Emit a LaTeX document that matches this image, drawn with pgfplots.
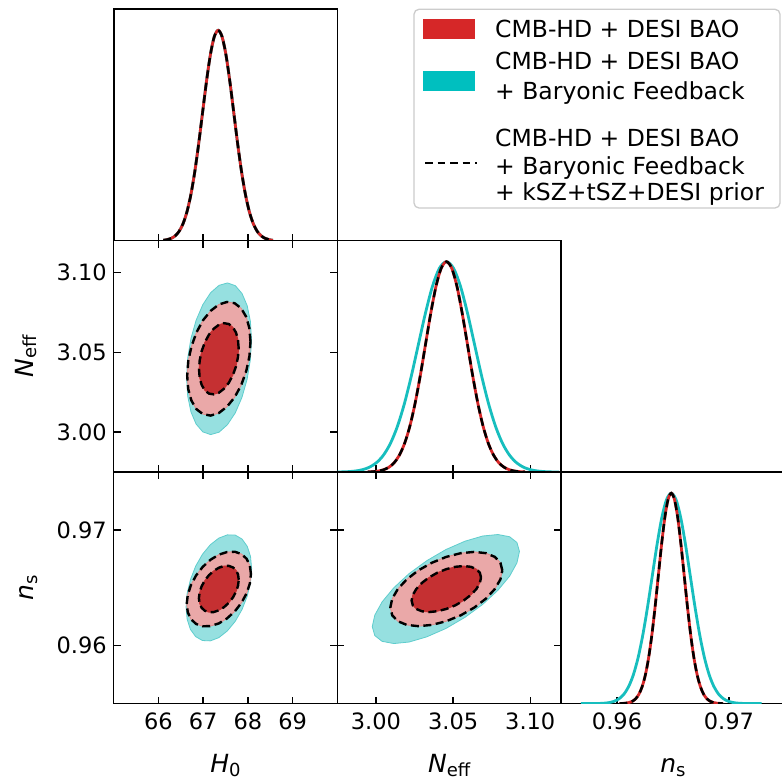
\documentclass[border=0pt]{standalone}
\usepackage{fontspec}
\setmainfont{DejaVu Sans}
\usepackage{pgfplots}
\pgfplotsset{compat=1.18}
\usepackage{pgfplotstable}

\definecolor{redline}{RGB}{214,39,40}
\definecolor{redin}{RGB}{197,48,50}
\definecolor{redout}{RGB}{234,168,168}
\definecolor{redoutedge}{RGB}{224,140,140}
\definecolor{cyanline}{RGB}{23,190,190}
\definecolor{cyanout}{RGB}{150,224,224}
\definecolor{cyanoutedge}{RGB}{95,205,205}
\definecolor{cyanpatch}{RGB}{0,191,191}

% ---------- 1D marginals ----------
\pgfplotstableread[row sep=\\]{
x y\\
66.11 0.0022\\ 66.1975 0.0051\\ 66.285 0.0111\\ 66.3725 0.0228\\ 66.46 0.0439\\ 66.5475 0.0796\\
66.635 0.1353\\ 66.7225 0.2163\\ 66.81 0.3247\\ 66.8975 0.4578\\ 66.985 0.6065\\ 67.0725 0.7548\\
67.16 0.8825\\ 67.2475 0.9692\\ 67.335 1\\ 67.4225 0.9692\\ 67.51 0.8825\\ 67.5975 0.7548\\
67.685 0.6065\\ 67.7725 0.4578\\ 67.86 0.3247\\ 67.9475 0.2163\\ 68.035 0.1353\\ 68.1225 0.0796\\
68.21 0.0439\\ 68.2975 0.0228\\ 68.385 0.0111\\ 68.4725 0.0051\\ 68.56 0.0022\\
}\HzOne

\pgfplotstableread[row sep=\\]{
x y\\
2.9947 0.00088\\ 2.9981 0.0022\\ 3.0015 0.0051\\ 3.0049 0.0111\\ 3.0083 0.0228\\ 3.0117 0.0439\\
3.0151 0.0796\\ 3.0185 0.1353\\ 3.0219 0.2163\\ 3.0253 0.3247\\ 3.0287 0.4578\\ 3.0321 0.6065\\
3.0355 0.7548\\ 3.0389 0.8825\\ 3.0423 0.9692\\ 3.0457 1\\ 3.0491 0.9692\\ 3.0525 0.8825\\
3.0559 0.7548\\ 3.0593 0.6065\\ 3.0627 0.4578\\ 3.0661 0.3247\\ 3.0695 0.2163\\ 3.0729 0.1353\\
3.0763 0.0796\\ 3.0797 0.0439\\ 3.0831 0.0228\\ 3.0865 0.0111\\ 3.0899 0.0051\\ 3.0933 0.0022\\
3.0967 0.00088\\
}\NeffRed

\pgfplotstableread[row sep=\\]{
x y\\
2.9729 0.00034\\ 2.97745 0.00088\\ 2.982 0.0022\\ 2.98655 0.0051\\ 2.9911 0.0111\\ 2.99565 0.0228\\
3.0002 0.0439\\ 3.00475 0.0796\\ 3.0093 0.1353\\ 3.01385 0.2163\\ 3.0184 0.3247\\ 3.02295 0.4578\\
3.0275 0.6065\\ 3.03205 0.7548\\ 3.0366 0.8825\\ 3.04115 0.9692\\ 3.0457 1\\ 3.05025 0.9692\\
3.0548 0.8825\\ 3.05935 0.7548\\ 3.0639 0.6065\\ 3.06845 0.4578\\ 3.073 0.3247\\ 3.07755 0.2163\\
3.0821 0.1353\\ 3.08665 0.0796\\ 3.0912 0.0439\\ 3.09575 0.0228\\ 3.1003 0.0111\\ 3.10485 0.0051\\
3.1094 0.0022\\ 3.11395 0.00088\\ 3.1185 0.00034\\
}\NeffCyan

\pgfplotstableread[row sep=\\]{
x y\\
0.96021 0.00034\\ 0.9605 0.00088\\ 0.96079 0.0022\\ 0.96108 0.0051\\ 0.96137 0.0111\\ 0.96166 0.0228\\
0.96195 0.0439\\ 0.96224 0.0796\\ 0.96253 0.1353\\ 0.96282 0.2163\\ 0.96311 0.3247\\ 0.9634 0.4578\\
0.96369 0.6065\\ 0.96398 0.7548\\ 0.96427 0.8825\\ 0.96456 0.9692\\ 0.96485 1\\ 0.96514 0.9692\\
0.96543 0.8825\\ 0.96572 0.7548\\ 0.96601 0.6065\\ 0.9663 0.4578\\ 0.96659 0.3247\\ 0.96688 0.2163\\
0.96717 0.1353\\ 0.96746 0.0796\\ 0.96775 0.0439\\ 0.96804 0.0228\\ 0.96833 0.0111\\ 0.96862 0.0051\\
0.96891 0.0022\\ 0.9692 0.00088\\ 0.96949 0.00034\\
}\nsRed

\pgfplotstableread[row sep=\\]{
x y\\
0.956775 0\\ 0.95805 0.00034\\ 0.958475 0.00088\\ 0.9589 0.0022\\ 0.959325 0.0051\\ 0.95975 0.0111\\
0.960175 0.0228\\ 0.9606 0.0439\\ 0.961025 0.0796\\ 0.96145 0.1353\\ 0.961875 0.2163\\ 0.9623 0.3247\\
0.962725 0.4578\\ 0.96315 0.6065\\ 0.963575 0.7548\\ 0.964 0.8825\\ 0.964425 0.9692\\ 0.96485 1\\
0.965275 0.9692\\ 0.9657 0.8825\\ 0.966125 0.7548\\ 0.96655 0.6065\\ 0.966975 0.4578\\ 0.9674 0.3247\\
0.967825 0.2163\\ 0.96825 0.1353\\ 0.968675 0.0796\\ 0.9691 0.0439\\ 0.969525 0.0228\\ 0.96995 0.0111\\
0.970375 0.0051\\ 0.9708 0.0022\\ 0.971225 0.00088\\ 0.97165 0.00034\\ 0.972925 0\\
}\nsCyan

% ---------- 2D contours: H0 - Neff ----------
\pgfplotstableread[row sep=\\]{
x y\\
68.0575 3.0567\\ 68.0334 3.0651\\ 67.9627 3.0722\\ 67.8503 3.0776\\ 67.7038 3.0808\\ 67.5331 3.0816\\
67.35 3.0800\\ 67.1669 3.0760\\ 66.9962 3.0701\\ 66.8497 3.0625\\ 66.7373 3.0537\\ 66.6666 3.0445\\
66.6425 3.0353\\ 66.6666 3.0269\\ 66.7373 3.0198\\ 66.8497 3.0144\\ 66.9962 3.0113\\ 67.1669 3.0104\\
67.35 3.0120\\ 67.5331 3.0160\\ 67.7038 3.0219\\ 67.8503 3.0295\\ 67.9627 3.0383\\ 68.0334 3.0475\\
68.0575 3.0567\\
}\aRo
\pgfplotstableread[row sep=\\]{
x y\\
67.7929 3.0527\\ 67.7778 3.0580\\ 67.7336 3.0624\\ 67.6632 3.0658\\ 67.5715 3.0678\\ 67.4646 3.0683\\
67.35 3.0673\\ 67.2354 3.0648\\ 67.1285 3.0611\\ 67.0368 3.0563\\ 66.9664 3.0508\\ 66.9222 3.0450\\
66.9071 3.0393\\ 66.9222 3.0340\\ 66.9664 3.0296\\ 67.0368 3.0262\\ 67.1285 3.0242\\ 67.2354 3.0237\\
67.35 3.0247\\ 67.4646 3.0272\\ 67.5715 3.0309\\ 67.6632 3.0357\\ 67.7336 3.0412\\ 67.7778 3.0470\\
67.7929 3.0527\\
}\aRi
\pgfplotstableread[row sep=\\]{
x y\\
68.0805 3.0579\\ 68.0558 3.0694\\ 67.9833 3.0793\\ 67.8680 3.0869\\ 67.7178 3.0918\\ 67.5428 3.0935\\
67.355 3.0920\\ 67.1672 3.0874\\ 66.9922 3.0799\\ 66.8420 3.0701\\ 66.7267 3.0587\\ 66.6542 3.0464\\
66.6295 3.0341\\ 66.6542 3.0226\\ 66.7267 3.0127\\ 66.8420 3.0051\\ 66.9922 3.0002\\ 67.1672 2.9985\\
67.355 3.0000\\ 67.5428 3.0047\\ 67.7178 3.0121\\ 67.8680 3.0219\\ 67.9833 3.0333\\ 68.0558 3.0456\\
68.0805 3.0579\\
}\aC

% ---------- 2D contours: H0 - ns ----------
\pgfplotstableread[row sep=\\]{
x y\\
68.068 0.96620\\ 68.0435 0.96692\\ 67.9718 0.96751\\ 67.8577 0.96792\\ 67.709 0.96812\\ 67.5358 0.96810\\
67.35 0.96787\\ 67.1642 0.96743\\ 66.991 0.96682\\ 66.8423 0.96608\\ 66.7282 0.96526\\ 66.6565 0.96442\\
66.632 0.96360\\ 66.6565 0.96288\\ 66.7282 0.96229\\ 66.8423 0.96188\\ 66.991 0.96168\\ 67.1642 0.96170\\
67.35 0.96193\\ 67.5358 0.96237\\ 67.709 0.96298\\ 67.8577 0.96372\\ 67.9718 0.96454\\ 68.0435 0.96538\\
68.068 0.96620\\
}\bRo
\pgfplotstableread[row sep=\\]{
x y\\
67.7952 0.96570\\ 67.78 0.96615\\ 67.7355 0.96652\\ 67.6648 0.96677\\ 67.5726 0.96690\\ 67.4652 0.96689\\
67.35 0.96674\\ 67.2348 0.96647\\ 67.1274 0.96609\\ 67.0352 0.96563\\ 66.9645 0.96513\\ 66.92 0.96460\\
66.9048 0.96410\\ 66.92 0.96365\\ 66.9645 0.96328\\ 67.0352 0.96303\\ 67.1274 0.96290\\ 67.2348 0.96291\\
67.35 0.96306\\ 67.4652 0.96333\\ 67.5726 0.96371\\ 67.6648 0.96417\\ 67.7355 0.96468\\ 67.78 0.96520\\
67.7952 0.96570\\
}\bRi
\pgfplotstableread[row sep=\\]{
x y\\
68.083 0.96666\\ 68.058 0.96772\\ 67.9848 0.96859\\ 67.8683 0.96922\\ 67.7165 0.96956\\ 67.5397 0.96958\\
67.35 0.96930\\ 67.1603 0.96873\\ 66.9835 0.96790\\ 66.8317 0.96687\\ 66.7152 0.96571\\ 66.642 0.96451\\
66.617 0.96334\\ 66.642 0.96228\\ 66.7152 0.96141\\ 66.8317 0.96079\\ 66.9835 0.96045\\ 67.1603 0.96042\\
67.35 0.96070\\ 67.5397 0.96128\\ 67.7165 0.96211\\ 67.8683 0.96313\\ 67.9848 0.96429\\ 68.058 0.96549\\
68.083 0.96666\\
}\bC

% ---------- 2D contours: Neff - ns ----------
\pgfplotstableread[row sep=\\]{
x y\\
3.0819 0.96651\\ 3.08066 0.96717\\ 3.07704 0.96768\\ 3.07127 0.96800\\ 3.06375 0.96811\\ 3.05499 0.96800\\
3.0456 0.96768\\ 3.03621 0.96717\\ 3.02745 0.96651\\ 3.01993 0.96573\\ 3.01416 0.96490\\ 3.01054 0.96407\\
3.0093 0.96330\\ 3.01054 0.96263\\ 3.01416 0.96212\\ 3.01993 0.96180\\ 3.02745 0.96169\\ 3.03621 0.96180\\
3.0456 0.96212\\ 3.05499 0.96263\\ 3.06375 0.96330\\ 3.07127 0.96407\\ 3.07704 0.96490\\ 3.08066 0.96573\\
3.0819 0.96651\\
}\cRo
\pgfplotstableread[row sep=\\]{
x y\\
3.0681 0.96590\\ 3.06733 0.96631\\ 3.06509 0.96662\\ 3.06151 0.96682\\ 3.05685 0.96689\\ 3.05142 0.96682\\
3.0456 0.96662\\ 3.03978 0.96631\\ 3.03435 0.96590\\ 3.02969 0.96542\\ 3.02611 0.96490\\ 3.02387 0.96439\\
3.0231 0.96391\\ 3.02387 0.96349\\ 3.02611 0.96318\\ 3.02969 0.96298\\ 3.03435 0.96291\\ 3.03978 0.96298\\
3.0456 0.96318\\ 3.05142 0.96349\\ 3.05685 0.96391\\ 3.06151 0.96439\\ 3.06509 0.96490\\ 3.06733 0.96542\\
3.0681 0.96590\\
}\cRi
\pgfplotstableread[row sep=\\]{
x y\\
3.093 0.96815\\ 3.09137 0.96892\\ 3.08661 0.96942\\ 3.07903 0.96961\\ 3.06915 0.96948\\ 3.05764 0.96903\\
3.0453 0.96831\\ 3.03296 0.96735\\ 3.02145 0.96623\\ 3.01157 0.96501\\ 3.00399 0.96379\\ 2.99923 0.96264\\
2.9976 0.96165\\ 2.99923 0.96088\\ 3.00399 0.96038\\ 3.01157 0.96019\\ 3.02145 0.96032\\ 3.03296 0.96077\\
3.0453 0.96149\\ 3.05764 0.96245\\ 3.06915 0.96357\\ 3.07903 0.96479\\ 3.08661 0.96601\\ 3.09137 0.96716\\
3.093 0.96815\\
}\cC

\newcommand{\Hz}{\textit{H}\raisebox{-3.5pt}{\fontsize{18}{18}\selectfont 0}}
\newcommand{\Neff}{\textit{N}\raisebox{-3.5pt}{\fontsize{18}{18}\selectfont eff}}
\newcommand{\ns}{\textit{n}\raisebox{-4pt}{\fontsize{18}{18}\selectfont s}}

\pgfplotsset{
  tri/.style={
    scale only axis, width=223.7pt, height=231.45pt, anchor=south west,
    tick align=inside, major tick length=7pt,
    every tick/.style={black, line width=1.4pt},
    axis line style={line width=1.6pt},
    tick label style={font=\fontsize{22.5}{22.5}\selectfont},
    xticklabel style={yshift=-5.5pt},
    yticklabel style={xshift=-3.5pt},
    label style={font=\fontsize{25}{25}\selectfont},
    xlabel style={at={(axis description cs:0.5,-0.2990)}, anchor=base},
    ylabel style={at={(axis description cs:-0.3594,0.5)}, anchor=base, rotate=0},
    /pgf/number format/assume math mode=true,
  },
  diag/.style={tri, ymin=0, ymax=1.1, ytick=\empty, xtick pos=lower},
  hx/.style={xmin=65, xmax=70, xtick={66,67,68,69}},
  nx/.style={xmin=2.975, xmax=3.12, xtick={3.00,3.05,3.10}},
  ny/.style={ymin=2.975, ymax=3.12, ytick={3.00,3.05,3.10}},
  sx/.style={xmin=0.955, xmax=0.975, xtick={0.96,0.97}},
  sy/.style={ymin=0.955, ymax=0.975, ytick={0.96,0.97}},
  cyan1d/.style={cyanline, line width=2.8pt, smooth},
  red1d/.style={redline, line width=2.8pt, smooth},
  dash1d/.style={black, line width=2.5pt, smooth, dash pattern=on 8pt off 4.5pt},
  cyanfill/.style={fill=cyanout, draw=cyanoutedge, line width=0.8pt},
  redofill/.style={fill=redout, draw=redoutedge, line width=0.8pt},
  redifill/.style={fill=redin, draw=redin, line width=0.8pt},
  dash2d/.style={black, line width=2.4pt, dash pattern=on 8pt off 4.5pt},
}

\begin{document}
\begin{tikzpicture}
\useasboundingbox (0,0) rectangle (782pt,782pt);
\fill[white] (0,0) rectangle (782pt,782pt);

% top-left: H0 1D
\begin{axis}[diag, hx, at={(113.7pt,541.3pt)}, xticklabels={}]
\addplot[cyan1d] table {\HzOne};
\addplot[red1d] table {\HzOne};
\addplot[dash1d] table {\HzOne};
\end{axis}

% H0 - Neff
\begin{axis}[tri, hx, ny, at={(113.7pt,309.9pt)}, xticklabels={},
  yticklabels={3.00,3.05,3.10}, ylabel={\Neff}]
\addplot[cyanfill] table {\aC};
\addplot[redofill] table {\aRo};
\addplot[redifill] table {\aRi};
\addplot[dash2d] table {\aRo};
\addplot[dash2d] table {\aRi};
\end{axis}

% Neff 1D
\begin{axis}[diag, nx, at={(337.4pt,309.9pt)}, xticklabels={}]
\addplot[cyan1d] table {\NeffCyan};
\addplot[red1d] table {\NeffRed};
\addplot[dash1d] table {\NeffRed};
\end{axis}

% H0 - ns
\begin{axis}[tri, hx, sy, at={(113.7pt,78.4pt)},
  yticklabels={0.96,0.97}, xlabel={\Hz}, ylabel={\ns}]
\addplot[cyanfill] table {\bC};
\addplot[redofill] table {\bRo};
\addplot[redifill] table {\bRi};
\addplot[dash2d] table {\bRo};
\addplot[dash2d] table {\bRi};
\end{axis}

% Neff - ns
\begin{axis}[tri, nx, sy, at={(337.4pt,78.4pt)},
  xticklabels={3.00,3.05,3.10}, yticklabels={}, xlabel={\Neff}]
\addplot[cyanfill] table {\cC};
\addplot[redofill] table {\cRo};
\addplot[redifill] table {\cRi};
\addplot[dash2d] table {\cRo};
\addplot[dash2d] table {\cRi};
\end{axis}

% ns 1D
\begin{axis}[diag, sx, at={(561.1pt,78.4pt)}, xticklabels={0.96,0.97}, xlabel={\ns}]
\addplot[cyan1d] table {\nsCyan};
\addplot[red1d] table {\nsRed};
\addplot[dash1d] table {\nsRed};
\end{axis}

% legend
\draw[rounded corners=5pt, draw=black!20, line width=1.3pt, fill=white]
  (414pt,772.7pt) rectangle (780pt,574pt);
\fill[redline] (423.3pt,762.7pt) rectangle (475pt,742.7pt);
\fill[cyanpatch] (423.3pt,711pt) rectangle (475pt,691.3pt);
\draw[black, line width=2.4pt, dash pattern=on 7.5pt off 5pt] (425pt,618.7pt) -- (477pt,618.7pt);
\begin{scope}[every node/.style={anchor=base west, inner sep=0pt, font=\fontsize{23.5}{23.5}\selectfont}]
\node at (495pt,744.7pt) {CMB-HD + DESI BAO};
\node at (495pt,712pt) {CMB-HD + DESI BAO};
\node at (495pt,682.7pt) {+ Baryonic Feedback};
\node at (495pt,635.3pt) {CMB-HD + DESI BAO};
\node at (495pt,607.7pt) {+ Baryonic Feedback};
\node at (495pt,581pt) {+ kSZ+tSZ+DESI prior};
\end{scope}
\end{tikzpicture}
\end{document}
